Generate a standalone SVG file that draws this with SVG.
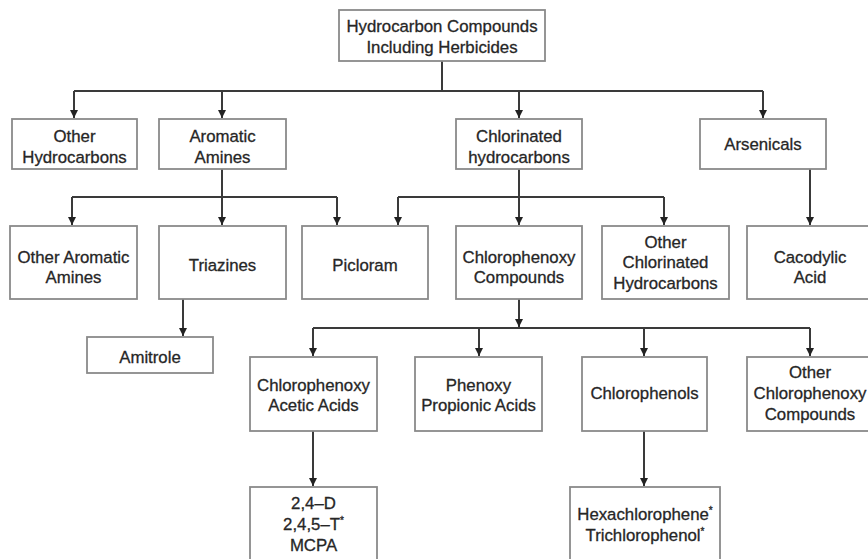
<svg xmlns="http://www.w3.org/2000/svg" width="868" height="559" viewBox="0 0 868 559">
<style>
.box{fill:#fff;stroke:#8a8a8a;stroke-width:1.8}
.t{font-family:"Liberation Sans",Arial,sans-serif;font-size:16.8px;fill:#262626;stroke:#262626;stroke-width:0.3;text-anchor:middle}
.ln{fill:none;stroke:#3a3a3a;stroke-width:2}
.sup{font-size:10px}
</style>
<defs>
<marker id="ah" markerWidth="8" markerHeight="10" refX="8" refY="4" orient="auto" markerUnits="userSpaceOnUse" viewBox="0 0 8 8">
<path d="M0,0 L8,4 L0,8 z" fill="#222"/>
</marker>
</defs>
<rect width="868" height="559" fill="#fff"/>
<g id="connectors">
<path class="ln" d="M442,61 V91 M74,91 H763"/>
<path class="ln" d="M74,91 V118" marker-end="url(#ah)"/>
<path class="ln" d="M222,91 V118" marker-end="url(#ah)"/>
<path class="ln" d="M519,91 V118" marker-end="url(#ah)"/>
<path class="ln" d="M763,91 V118" marker-end="url(#ah)"/>
<path class="ln" d="M222,169 V197 M72,197 H337"/>
<path class="ln" d="M72,197 V225" marker-end="url(#ah)"/>
<path class="ln" d="M222,197 V225" marker-end="url(#ah)"/>
<path class="ln" d="M337,197 V225" marker-end="url(#ah)"/>
<path class="ln" d="M519,169 V197 M398,197 H664"/>
<path class="ln" d="M398,197 V225" marker-end="url(#ah)"/>
<path class="ln" d="M519,197 V225" marker-end="url(#ah)"/>
<path class="ln" d="M664,197 V225" marker-end="url(#ah)"/>
<path class="ln" d="M810,169 V225" marker-end="url(#ah)"/>
<path class="ln" d="M183,299 V336" marker-end="url(#ah)"/>
<path class="ln" d="M519,299 V327" marker-end="url(#ah)"/>
<path class="ln" d="M313,328 H810"/>
<path class="ln" d="M313,328 V356" marker-end="url(#ah)"/>
<path class="ln" d="M479,328 V356" marker-end="url(#ah)"/>
<path class="ln" d="M644,328 V356" marker-end="url(#ah)"/>
<path class="ln" d="M810,328 V356" marker-end="url(#ah)"/>
<path class="ln" d="M313,431 V486" marker-end="url(#ah)"/>
<path class="ln" d="M644,431 V486" marker-end="url(#ah)"/>
</g>
<g id="n-root"><rect class="box" x="339" y="10" width="206" height="51"/><text class="t" x="442" y="32">Hydrocarbon Compounds</text><text class="t" x="442" y="53">Including Herbicides</text></g>
<g id="n-other-hc"><rect class="box" x="12" y="119" width="125" height="50"/><text class="t" x="74.5" y="142">Other</text><text class="t" x="74.5" y="163">Hydrocarbons</text></g>
<g id="n-aromatic"><rect class="box" x="159" y="119" width="127" height="50"/><text class="t" x="222.5" y="142">Aromatic</text><text class="t" x="222.5" y="163">Amines</text></g>
<g id="n-chlorinated"><rect class="box" x="456" y="119" width="126" height="50"/><text class="t" x="519" y="142">Chlorinated</text><text class="t" x="519" y="163">hydrocarbons</text></g>
<g id="n-arsenicals"><rect class="box" x="700" y="119" width="126" height="50"/><text class="t" x="763" y="150">Arsenicals</text></g>
<g id="n-other-aromatic"><rect class="box" x="10" y="226" width="127" height="73"/><text class="t" x="73.5" y="263">Other Aromatic</text><text class="t" x="73.5" y="283">Amines</text></g>
<g id="n-triazines"><rect class="box" x="159" y="226" width="127" height="73"/><text class="t" x="222.5" y="271">Triazines</text></g>
<g id="n-picloram"><rect class="box" x="302" y="226" width="126" height="73"/><text class="t" x="365" y="271">Picloram</text></g>
<g id="n-chlorophenoxy"><rect class="box" x="456" y="226" width="126" height="73"/><text class="t" x="519" y="263">Chlorophenoxy</text><text class="t" x="519" y="283">Compounds</text></g>
<g id="n-other-chlorinated"><rect class="box" x="602" y="226" width="127" height="73"/><text class="t" x="665.5" y="248">Other</text><text class="t" x="665.5" y="268">Chlorinated</text><text class="t" x="665.5" y="289">Hydrocarbons</text></g>
<g id="n-cacodylic"><rect class="box" x="747" y="226" width="128" height="73"/><text class="t" x="810" y="263">Cacodylic</text><text class="t" x="810" y="283">Acid</text></g>
<g id="n-amitrole"><rect class="box" x="87" y="337" width="126" height="36"/><text class="t" x="150" y="363">Amitrole</text></g>
<g id="n-acetic"><rect class="box" x="250" y="357" width="127" height="74"/><text class="t" x="313.5" y="391">Chlorophenoxy</text><text class="t" x="313.5" y="411">Acetic Acids</text></g>
<g id="n-propionic"><rect class="box" x="415" y="357" width="127" height="74"/><text class="t" x="478.5" y="391">Phenoxy</text><text class="t" x="478.5" y="411">Propionic Acids</text></g>
<g id="n-chlorophenols"><rect class="box" x="582" y="357" width="125" height="74"/><text class="t" x="644.5" y="399">Chlorophenols</text></g>
<g id="n-other-chlorophenoxy"><rect class="box" x="747" y="357" width="128" height="74"/><text class="t" x="810" y="378">Other</text><text class="t" x="810" y="399">Chlorophenoxy</text><text class="t" x="810" y="420">Compounds</text></g>
<g id="n-24d"><rect class="box" x="250" y="487" width="127" height="80"/><text class="t" x="313.5" y="509">2,4–D</text><text class="t" x="313.5" y="530">2,4,5–T<tspan class="sup" dy="-6">*</tspan></text><text class="t" x="313.5" y="551">MCPA</text></g>
<g id="n-hexa"><rect class="box" x="570" y="487" width="150" height="80"/><text class="t" x="645" y="520">Hexachlorophene<tspan class="sup" dy="-6">*</tspan></text><text class="t" x="645" y="541">Trichlorophenol<tspan class="sup" dy="-6">*</tspan></text></g>
</svg>
